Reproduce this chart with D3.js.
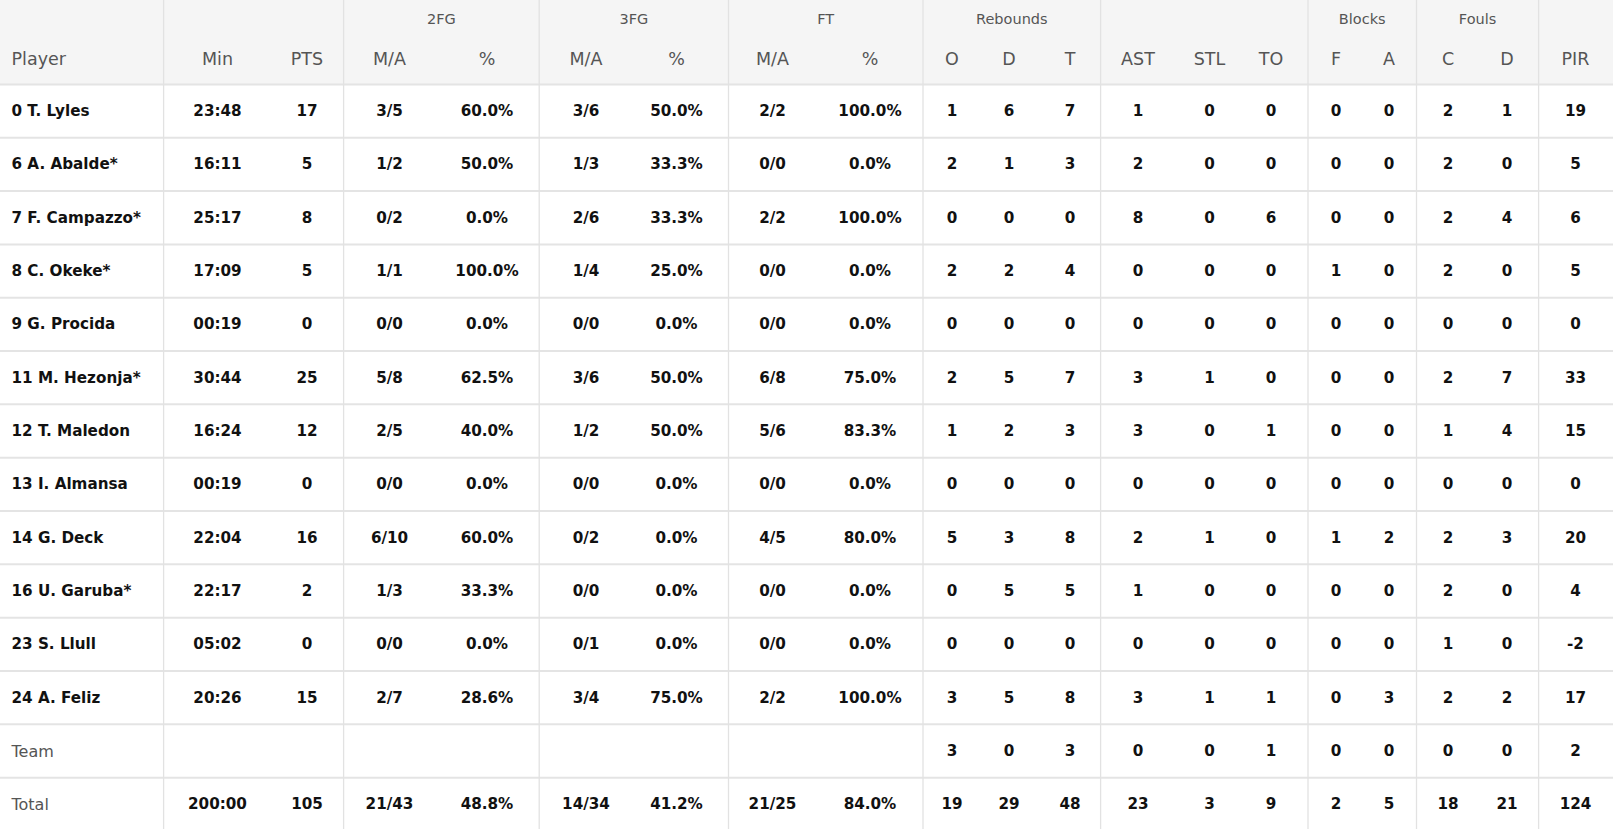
<!DOCTYPE html>
<html>
<head>
<meta charset="utf-8">
<script src="https://cdn.jsdelivr.net/npm/d3@7"></script>
<style>
	html,body{margin:0;padding:0;overflow:hidden;background:#fff;}
	svg{display:block;font-family:"DejaVu Sans",sans-serif;}
	.groupLabel{fill:#555;font-size:14.5px;}
	.colLabel{fill:#555;font-size:17.5px;}
	.cell{fill:#111;font-size:15.2px;font-weight:bold;}
	.rowLabel{fill:#111;font-size:15.2px;font-weight:bold;}
	.rowLabel.light{fill:#555;font-weight:normal;font-size:16px;}
</style>
</head>
<body>
<svg id="chart"></svg>
<script>
var WIDTH=1613;
var HEIGHT=829;
var HEADERHEIGHT=84.4;

// data
var players=["0 T. Lyles","6 A. Abalde*","7 F. Campazzo*","8 C. Okeke*","9 G. Procida","11 M. Hezonja*","12 T. Maledon","13 I. Almansa","14 G. Deck","16 U. Garuba*","23 S. Llull","24 A. Feliz","Team","Total"];
var minutes=["23:48","16:11","25:17","17:09","00:19","30:44","16:24","00:19","22:04","22:17","05:02","20:26","","200:00"];
var points=[17,5,8,5,0,25,12,0,16,2,0,15,"",105];
var fg2=["3/5","1/2","0/2","1/1","0/0","5/8","2/5","0/0","6/10","1/3","0/0","2/7","","21/43"];
var fg2Pct=["60.0%","50.0%","0.0%","100.0%","0.0%","62.5%","40.0%","0.0%","60.0%","33.3%","0.0%","28.6%","","48.8%"];
var fg3=["3/6","1/3","2/6","1/4","0/0","3/6","1/2","0/0","0/2","0/0","0/1","3/4","","14/34"];
var fg3Pct=["50.0%","33.3%","33.3%","25.0%","0.0%","50.0%","50.0%","0.0%","0.0%","0.0%","0.0%","75.0%","","41.2%"];
var ft=["2/2","0/0","2/2","0/0","0/0","6/8","5/6","0/0","4/5","0/0","0/0","2/2","","21/25"];
var ftPct=["100.0%","0.0%","100.0%","0.0%","0.0%","75.0%","83.3%","0.0%","80.0%","0.0%","0.0%","100.0%","","84.0%"];
var rebOff=[1,2,0,2,0,2,1,0,5,0,0,3,3,19];
var rebDef=[6,1,0,2,0,5,2,0,3,5,0,5,0,29];
var rebTot=[7,3,0,4,0,7,3,0,8,5,0,8,3,48];
var assists=[1,2,8,0,0,3,3,0,2,1,0,3,0,23];
var steals=[0,0,0,0,0,1,0,0,1,0,0,1,0,3];
var turnovers=[0,0,6,0,0,0,1,0,0,0,0,1,1,9];
var blocksFor=[0,0,0,1,0,0,0,0,1,0,0,0,0,2];
var blocksAgainst=[0,0,0,0,0,0,0,0,2,0,0,3,0,5];
var foulsCommitted=[2,2,2,2,0,2,1,0,2,2,1,2,0,18];
var foulsDrawn=[1,0,4,0,0,7,4,0,3,0,0,2,0,21];
var pir=[19,5,6,5,0,33,15,0,20,4,-2,17,2,124];

var columnLabels=["Min","PTS","M/A","%","M/A","%","M/A","%","O","D","T","AST","STL","TO","F","A","C","D","PIR"];
var columnValues=[minutes,points,fg2,fg2Pct,fg3,fg3Pct,ft,ftPct,rebOff,rebDef,rebTot,assists,steals,turnovers,blocksFor,blocksAgainst,foulsCommitted,foulsDrawn,pir];
var groupLabels=["","2FG","3FG","FT","Rebounds","","Blocks","Fouls",""];

// layout (text centres / group borders in px)
var COLUMNCENTERS=[217.5,307,389.5,487,586,676.5,772.5,870,952,1009,1070,1138,1209.5,1271,1336,1389,1448,1507,1575.5];
var GROUPEDGES=[163.6,343.6,539.2,728.5,923,1100.6,1308,1416.5,1538.6,WIDTH];

var svg=d3.select("#chart").attr("width",WIDTH).attr("height",HEIGHT);

var x=d3.scaleOrdinal().domain(d3.range(columnLabels.length)).range(COLUMNCENTERS);
var y=d3.scaleBand().domain(d3.range(players.length)).range([HEADERHEIGHT,HEIGHT+2]);
var groupX=d3.scaleOrdinal().domain(d3.range(groupLabels.length)).range(GROUPEDGES.slice(0,-1));

drawHeader();
drawGrid();
drawRows();

//表头
function drawHeader(){
	svg.append("rect")
		.attr("x",0).attr("y",0)
		.attr("width",WIDTH).attr("height",HEADERHEIGHT)
		.style("fill","#f5f5f5");
	svg.selectAll(".groupLabel").data(groupLabels).enter().append("text")
		.attr("class","groupLabel")
		.attr("x",function(d,i){return (groupX(i)+GROUPEDGES[i+1])/2;})
		.attr("y",19)
		.attr("text-anchor","middle")
		.attr("dominant-baseline","central")
		.text(function(d){return d;});
	svg.append("text")
		.attr("class","colLabel")
		.attr("x",11.5)
		.attr("y",58.5)
		.attr("dominant-baseline","central")
		.text("Player");
	svg.selectAll(".colLabelItem").data(columnLabels).enter().append("text")
		.attr("class","colLabel colLabelItem")
		.attr("x",function(d,i){return x(i);})
		.attr("y",58.5)
		.attr("text-anchor","middle")
		.attr("dominant-baseline","central")
		.text(function(d){return d;});
}

//网格线
function drawGrid(){
	svg.selectAll(".rowLine").data(players).enter().append("line")
		.attr("class","rowLine")
		.attr("x1",0).attr("x2",WIDTH)
		.attr("y1",function(d,i){return y(i);})
		.attr("y2",function(d,i){return y(i);})
		.style("stroke","#e4e4e4")
		.style("stroke-width","2px");
	svg.selectAll(".colLine").data(GROUPEDGES.slice(0,-1)).enter().append("line")
		.attr("class","colLine")
		.attr("x1",function(d){return d;}).attr("x2",function(d){return d;})
		.attr("y1",0).attr("y2",HEIGHT)
		.style("stroke","#e2e2e2")
		.style("stroke-width","1.3px");
}

//球员行
function drawRows(){
	var rows=svg.selectAll(".row").data(players).enter().append("g")
		.attr("class","row")
		.attr("transform",function(d,i){return "translate(0,"+(y(i)+y.bandwidth()/2)+")";});
	rows.append("text")
		.attr("class",function(d){return (d=="Team"||d=="Total")?"rowLabel light":"rowLabel";})
		.attr("x",11.5)
		.attr("dominant-baseline","central")
		.text(function(d){return d;});
	rows.each(function(d,i){
		var g=d3.select(this);
		for(var c=0;c<columnValues.length;c++){
			var v=columnValues[c][i];
			if(v===""){continue;}
			g.append("text")
				.attr("class","cell")
				.attr("x",x(c))
				.attr("text-anchor","middle")
				.attr("dominant-baseline","central")
				.text(v);
		}
	});
}
</script>
</body>
</html>
